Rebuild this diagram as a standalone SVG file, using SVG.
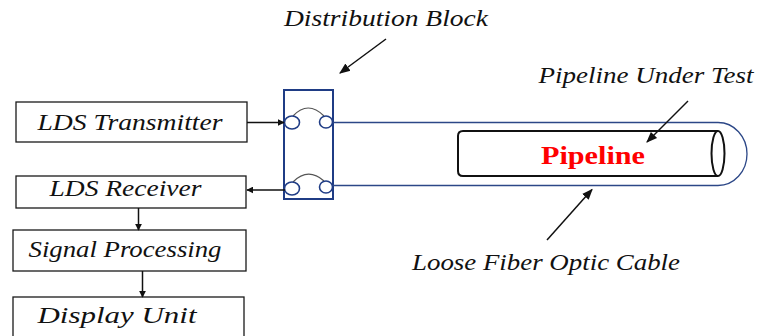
<svg xmlns="http://www.w3.org/2000/svg" width="762" height="336" viewBox="0 0 762 336">
<style>
.box{fill:#fff;stroke:#1a1a1a;stroke-width:1.3}
.lbl{font-family:"Liberation Serif",serif;font-style:italic;font-size:23px;fill:#111;text-anchor:middle}
.con{stroke:#111;stroke-width:1.5;fill:none}
.fib{stroke:#2c4787;stroke-width:1.3;fill:none}
.port{fill:#fff;stroke:#1f3c85;stroke-width:1.6}
.arc{fill:none;stroke:#555;stroke-width:1.2}
</style>
<defs>
<marker id="ah" viewBox="0 0 10 10" refX="9" refY="5" markerWidth="7" markerHeight="7" markerUnits="userSpaceOnUse" orient="auto">
<path d="M0,0 L10,5 L0,10 z" fill="#111"/>
</marker>
<marker id="ah2" viewBox="0 0 10 10" refX="9" refY="5" markerWidth="11" markerHeight="11" markerUnits="userSpaceOnUse" orient="auto">
<path d="M0,1 L10,5 L0,9 z" fill="#111"/>
</marker>
</defs>
<rect width="762" height="336" fill="#fff"/>

<g id="lds-transmitter">
<rect class="box" x="16" y="102" width="231" height="40"/>
<text class="lbl" x="130" y="129.5" textLength="185" lengthAdjust="spacingAndGlyphs">LDS Transmitter</text>
</g>
<g id="lds-receiver">
<rect class="box" x="16" y="176" width="230" height="32"/>
<text class="lbl" x="125.5" y="196" textLength="152" lengthAdjust="spacingAndGlyphs">LDS Receiver</text>
</g>
<g id="signal-processing">
<rect class="box" x="13" y="230" width="233" height="41"/>
<text class="lbl" x="125" y="257" textLength="193" lengthAdjust="spacingAndGlyphs">Signal Processing</text>
</g>
<g id="display-unit">
<rect class="box" x="13" y="297" width="231" height="45"/>
<text class="lbl" x="117" y="323" textLength="159" lengthAdjust="spacingAndGlyphs">Display Unit</text>
</g>

<g id="distribution-block">
<rect x="284" y="90" width="49" height="109" fill="#fff" stroke="#1f3c85" stroke-width="2"/>
<path class="arc" d="M293,116 Q308,100 324,116"/>
<path class="arc" d="M293,182 Q308,167 324,181"/>
<ellipse class="port" cx="292" cy="122.5" rx="7.5" ry="6.5"/>
<ellipse class="port" cx="326" cy="122" rx="6.5" ry="6"/>
<ellipse class="port" cx="292" cy="188.5" rx="7.5" ry="6.5"/>
<ellipse class="port" cx="326" cy="187" rx="6.5" ry="6"/>
<text class="lbl" x="386" y="26" textLength="204" lengthAdjust="spacingAndGlyphs">Distribution Block</text>
</g>

<g id="pipeline">
<path d="M718,131 H463 Q458,131 458,136 V171 Q458,176 463,176 H718" fill="#fff" stroke="#111" stroke-width="2"/>
<ellipse cx="718" cy="153.5" rx="6.5" ry="22.5" fill="#fff" stroke="#111" stroke-width="2"/>
<text x="593" y="164" font-family="Liberation Serif,serif" font-weight="bold" font-size="26" fill="#ff0000" text-anchor="middle" textLength="104" lengthAdjust="spacingAndGlyphs">Pipeline</text>
</g>

<g id="pipeline-under-test">
<text class="lbl" x="646" y="83" textLength="215" lengthAdjust="spacingAndGlyphs">Pipeline Under Test</text>
</g>
<g id="loose-fiber-optic-cable">
<text class="lbl" x="546" y="270" textLength="268" lengthAdjust="spacingAndGlyphs">Loose Fiber Optic Cable</text>
</g>

<g id="connectors">
<line class="con" x1="247" y1="122.5" x2="284" y2="122.5" marker-end="url(#ah)"/>
<line class="con" x1="285" y1="190" x2="247" y2="190" marker-end="url(#ah)"/>
<line class="con" x1="138.5" y1="208" x2="138.5" y2="230" marker-end="url(#ah)"/>
<line class="con" x1="142.5" y1="271" x2="142.5" y2="297" marker-end="url(#ah)"/>
<path class="fib" d="M333,122.5 H718 A29,31.5 0 0 1 718,185.5 H333"/>
<line class="con" x1="386" y1="39" x2="340" y2="73" marker-end="url(#ah2)"/>
<line class="con" x1="688" y1="101" x2="647" y2="142" marker-end="url(#ah2)"/>
<line class="con" x1="547" y1="240" x2="592" y2="189.5" marker-end="url(#ah2)"/>
</g>
</svg>
